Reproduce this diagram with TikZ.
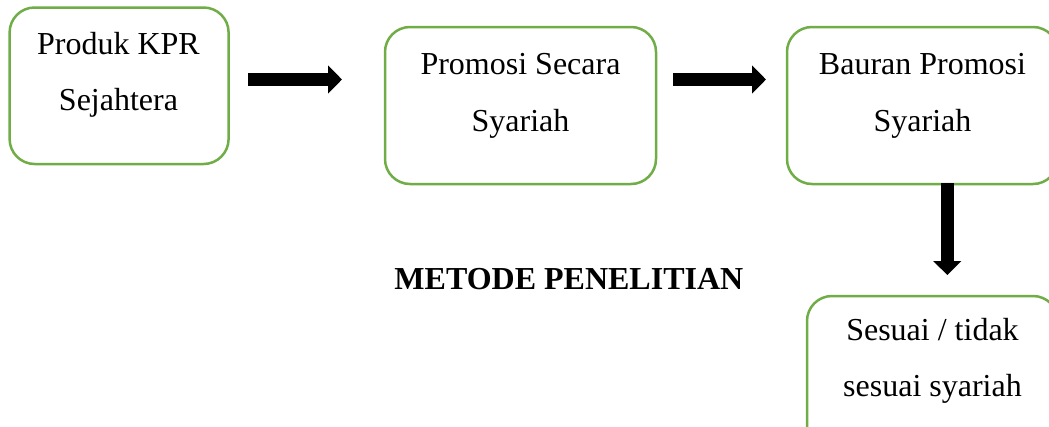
\documentclass[tikz,border=0pt]{standalone}
\usepackage{fontspec}
\setmainfont{Liberation Serif}
\usetikzlibrary{arrows.meta}
\definecolor{boxgreen}{HTML}{70AD47}
\tikzset{
  flowbox/.style={draw=boxgreen, line width=2.5pt, rounded corners=25pt, fill=white, inner sep=0pt},
  linetext/.style={anchor=base, inner sep=0pt, font=\fontsize{32}{38}\selectfont},
  headtext/.style={anchor=base, inner sep=0pt, font=\fontsize{32}{38}\selectfont\bfseries},
  fatarrow/.style={line width=13.3pt, -{Triangle[width=27.5pt,length=14pt]}}
}
\begin{document}
\begin{tikzpicture}[x=1pt,y=-1pt]
\useasboundingbox (0,0) rectangle (1049,426);
% boxes
\node[flowbox, minimum width=219pt, minimum height=156.5pt] (b1) at (119.1,85.75) {};
\node[flowbox, minimum width=271pt, minimum height=157pt] (b2) at (520.5,105.5) {};
\node[flowbox, minimum width=271pt, minimum height=157pt] (b3) at (922.5,105.5) {};
\node[flowbox, minimum width=251pt, minimum height=157pt] (b4) at (932.5,374.5) {};
% texts
\node[linetext] (t1a) at (118.5,54) {Produk KPR};
\node[linetext] (t1b) at (118.5,110) {Sejahtera};
\node[linetext] (t2a) at (520.5,74) {Promosi Secara};
\node[linetext] (t2b) at (520.5,131) {Syariah};
\node[linetext] (t3a) at (922.5,74) {Bauran Promosi};
\node[linetext] (t3b) at (922.5,131) {Syariah};
\node[linetext] (t4a) at (932.5,340.7) {Sesuai / tidak};
\node[linetext] (t4b) at (932.5,396.7) {sesuai syariah};
\node[headtext] (head) at (568.9,289) {METODE PENELITIAN};
% arrows
\coordinate (a1s) at (248,79.5);
\coordinate (a1e) at (342,79.5);
\coordinate (a2s) at (673,79.5);
\coordinate (a2e) at (766,79.5);
\coordinate (a3s) at (947.3,183);
\coordinate (a3e) at (947.3,275);
\draw[fatarrow] (a1s) -- (a1e);
\draw[fatarrow] (a2s) -- (a2e);
\draw[fatarrow] (a3s) -- (a3e);
\end{tikzpicture}
\end{document}
